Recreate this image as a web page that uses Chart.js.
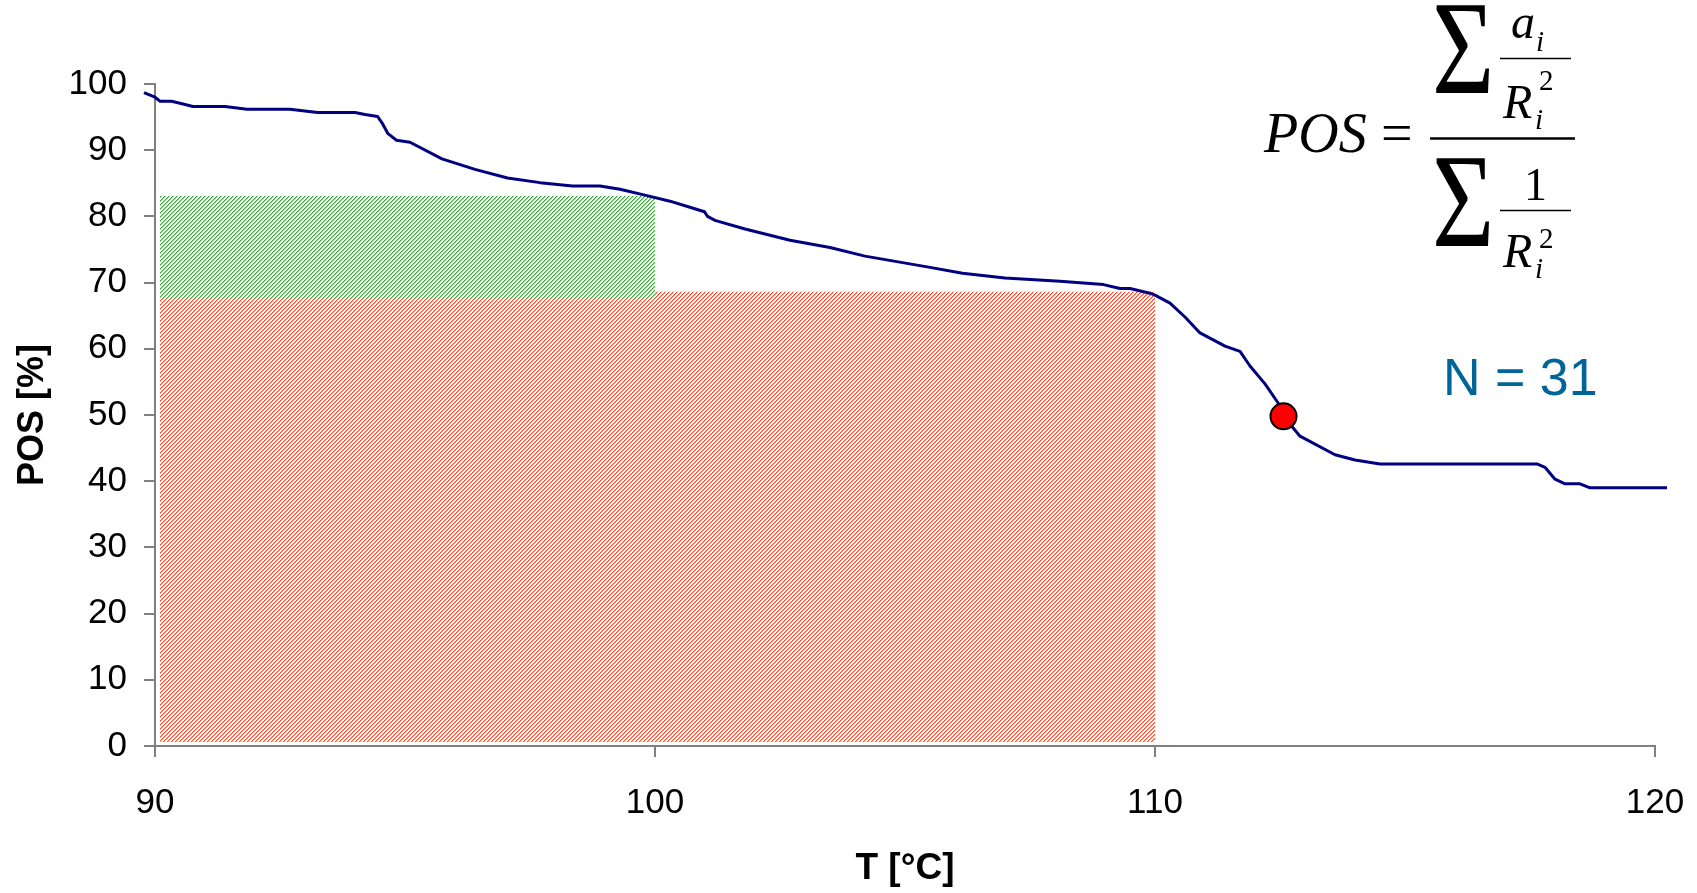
<!DOCTYPE html>
<html><head><meta charset="utf-8">
<script src="https://cdn.jsdelivr.net/npm/chart.js@4"></script>
<style>html,body{margin:0;padding:0;background:#fff}canvas{display:block}</style>
</head><body>
<canvas id="c" width="1697" height="893"></canvas>
<script>
// ---- data ----
const tempC = [89.78, 90.0, 90.1, 90.33, 90.5, 90.76, 91.4, 91.84, 92.7, 93.25, 94.0, 94.2, 94.45, 94.55, 94.66, 94.83, 95.1, 95.74, 96.4, 97.05, 97.7, 98.35, 98.9, 99.3, 99.86, 100.3, 100.73, 100.99, 101.05, 101.2, 101.8, 102.7, 103.5, 104.2, 105.5, 106.15, 107.0, 108.1, 108.97, 109.3, 109.5, 109.9, 110.0, 110.3, 110.6, 110.9, 111.4, 111.7, 111.9, 112.2, 112.5, 112.57, 112.9, 113.6, 114.0, 114.5, 117.64, 117.8, 118.0, 118.2, 118.5, 118.7, 120.24];
const posPct = [98.7, 98.0, 97.4, 97.4, 97.1, 96.6, 96.6, 96.2, 96.2, 95.7, 95.7, 95.4, 95.1, 94.0, 92.5, 91.5, 91.2, 88.7, 87.1, 85.8, 85.1, 84.6, 84.6, 84.1, 83.1, 82.3, 81.3, 80.7, 80.0, 79.4, 78.1, 76.4, 75.3, 74.0, 72.3, 71.4, 70.7, 70.2, 69.7, 69.1, 69.1, 68.4, 68.1, 66.9, 64.8, 62.4, 60.4, 59.6, 57.4, 54.7, 51.4, 49.8, 46.8, 44.0, 43.2, 42.6, 42.6, 42.1, 40.3, 39.6, 39.6, 39.0, 39.0];
const markerT = [112.57];
const markerPOS = [49.8];
const greenT = [90.1, 100];
const greenTop = [83.1, 83.1];
const greenBase = 67.6;
const redT = [90.1, 110];
const redTop = [68.6, 68.6];
const redBase = 0.6;
const xTickValues = [90, 100, 110, 120];
const yTickValues = [0, 10, 20, 30, 40, 50, 60, 70, 80, 90, 100];
const xTitle = 'T [°C]';
const yTitle = 'POS [%]';
const nLabel = 'N = 31';

// ---- styling helpers ----
const canvas = document.getElementById('c');
const ctx = canvas.getContext('2d');
function hatch(r, g, b) {
  const c = document.createElement('canvas');
  c.width = 4; c.height = 4;
  const x = c.getContext('2d');
  const img = x.createImageData(4, 4);
  for (let j = 0; j < 4; j++) for (let i = 0; i < 4; i++) {
    const k = (i + j) % 4;
    const a = k === 0 ? 1 : (k === 1 ? 0.5 : 0);
    const p = (j * 4 + i) * 4;
    img.data[p] = Math.round(255 + (r - 255) * a);
    img.data[p + 1] = Math.round(255 + (g - 255) * a);
    img.data[p + 2] = Math.round(255 + (b - 255) * a);
    img.data[p + 3] = 255;
  }
  x.putImageData(img, 0, 0);
  return ctx.createPattern(c, 'repeat');
}
const sans = "'Liberation Sans', Arial, sans-serif";
const serif = "'Liberation Serif', 'Times New Roman', serif";

const formulaPlugin = {
  id: 'formula',
  afterDraw(chart) {
    const c = chart.ctx;
    c.save();
    c.fillStyle = '#000';
    c.textBaseline = 'alphabetic';
    c.textAlign = 'left';
    // POS =
    c.font = 'italic 56px ' + serif;
    c.fillText('POS', 1264, 152);
    c.font = '56px ' + serif;
    c.fillText('=', 1381, 152);
    // fraction lines
    c.strokeStyle = '#000';
    c.lineWidth = 2.5;
    c.beginPath(); c.moveTo(1430, 138.5); c.lineTo(1575, 138.5); c.stroke();
    c.lineWidth = 1.6;
    c.beginPath(); c.moveTo(1500, 58.5); c.lineTo(1571, 58.5); c.stroke();
    c.beginPath(); c.moveTo(1500, 210.5); c.lineTo(1571, 210.5); c.stroke();
    // sigmas
    function sigma(x, base) {
      c.save(); c.translate(x, base); c.scale(0.8, 1);
      c.font = '134px ' + serif; c.fillText('\u03A3', 0, 0); c.restore();
    }
    sigma(1432, 93);
    sigma(1432, 246);
    // upper numerator a_i
    c.font = 'italic 48px ' + serif;
    c.fillText('a', 1511, 38);
    c.font = 'italic 29px ' + serif;
    c.fillText('i', 1536, 51);
    // upper denominator R_i^2
    c.font = 'italic 48px ' + serif;
    c.fillText('R', 1503, 118);
    c.font = '29px ' + serif;
    c.fillText('2', 1539, 90);
    c.font = 'italic 29px ' + serif;
    c.fillText('i', 1535, 129);
    // lower numerator 1
    c.font = '46px ' + serif;
    c.fillText('1', 1524, 200);
    // lower denominator R_i^2
    c.font = 'italic 48px ' + serif;
    c.fillText('R', 1503, 267);
    c.font = '29px ' + serif;
    c.fillText('2', 1539, 248);
    c.font = 'italic 29px ' + serif;
    c.fillText('i', 1535, 278);
    // N = 31
    c.font = '52px ' + sans;
    c.fillStyle = '#006699';
    c.fillText(nLabel, 1443, 395);
    c.restore();
  }
};

const axisGray = '#808080';
new Chart(ctx, {
  type: 'line',
  data: {
    datasets: [
      {
        label: 'marker',
        data: markerT.map((t, i) => ({x: t, y: markerPOS[i]})),
        showLine: false,
        pointRadius: 13,
        pointBackgroundColor: '#FF0000',
        pointBorderColor: '#000',
        pointBorderWidth: 2,
        order: 0,
        clip: false
      },
      {
        label: 'POS',
        data: tempC.map((t, i) => ({x: t, y: posPct[i]})),
        borderColor: '#000080',
        borderWidth: 3,
        pointRadius: 0,
        tension: 0,
        fill: false,
        borderJoinStyle: 'round',
        order: 1,
        clip: false
      },
      {
        label: 'green',
        data: greenT.map((t, i) => ({x: t, y: greenTop[i]})),
        borderWidth: 0,
        borderColor: 'rgba(0,0,0,0)',
        pointRadius: 0,
        backgroundColor: hatch(55, 170, 55),
        fill: {value: greenBase},
        order: 2
      },
      {
        label: 'red',
        data: redT.map((t, i) => ({x: t, y: redTop[i]})),
        borderWidth: 0,
        borderColor: 'rgba(0,0,0,0)',
        pointRadius: 0,
        backgroundColor: hatch(255, 75, 45),
        fill: {value: redBase},
        order: 3
      }
    ]
  },
  options: {
    responsive: false,
    devicePixelRatio: 1,
    animation: false,
    layout: {padding: {top: 84, right: 42, left: 0, bottom: 0}},
    plugins: {legend: {display: false}, tooltip: {enabled: false}},
    scales: {
      x: {
        type: 'linear',
        min: 90, max: 120,
        afterFit: s => { s.height = 147; s.paddingLeft = 0; s.paddingRight = 0; },
        afterBuildTicks: s => { s.ticks = xTickValues.map(v => ({value: v})); },
        grid: {drawOnChartArea: false, drawTicks: true, tickLength: 11, color: axisGray, lineWidth: 2},
        border: {display: true, color: axisGray, width: 2},
        ticks: {font: {family: sans, size: 35}, color: '#000', padding: 25, maxRotation: 0, autoSkip: false},
        title: {display: true, text: xTitle, font: {family: sans, size: 37, weight: 'bold'}, color: '#000', padding: {top: 0, bottom: 2}}
      },
      y: {
        type: 'linear',
        min: 0, max: 100,
        afterFit: s => { s.width = 155; },
        afterBuildTicks: s => { s.ticks = yTickValues.map(v => ({value: v})); },
        grid: {drawOnChartArea: false, drawTicks: true, tickLength: 11, color: axisGray, lineWidth: 2},
        border: {display: true, color: axisGray, width: 2},
        ticks: {font: {family: sans, size: 35}, color: '#000', padding: 17, autoSkip: false},
        title: {display: true, text: yTitle, font: {family: sans, size: 36, weight: 'bold'}, color: '#000', padding: {top: 11, bottom: 0}}
      }
    }
  },
  plugins: [formulaPlugin]
});
</script>
</body></html>
